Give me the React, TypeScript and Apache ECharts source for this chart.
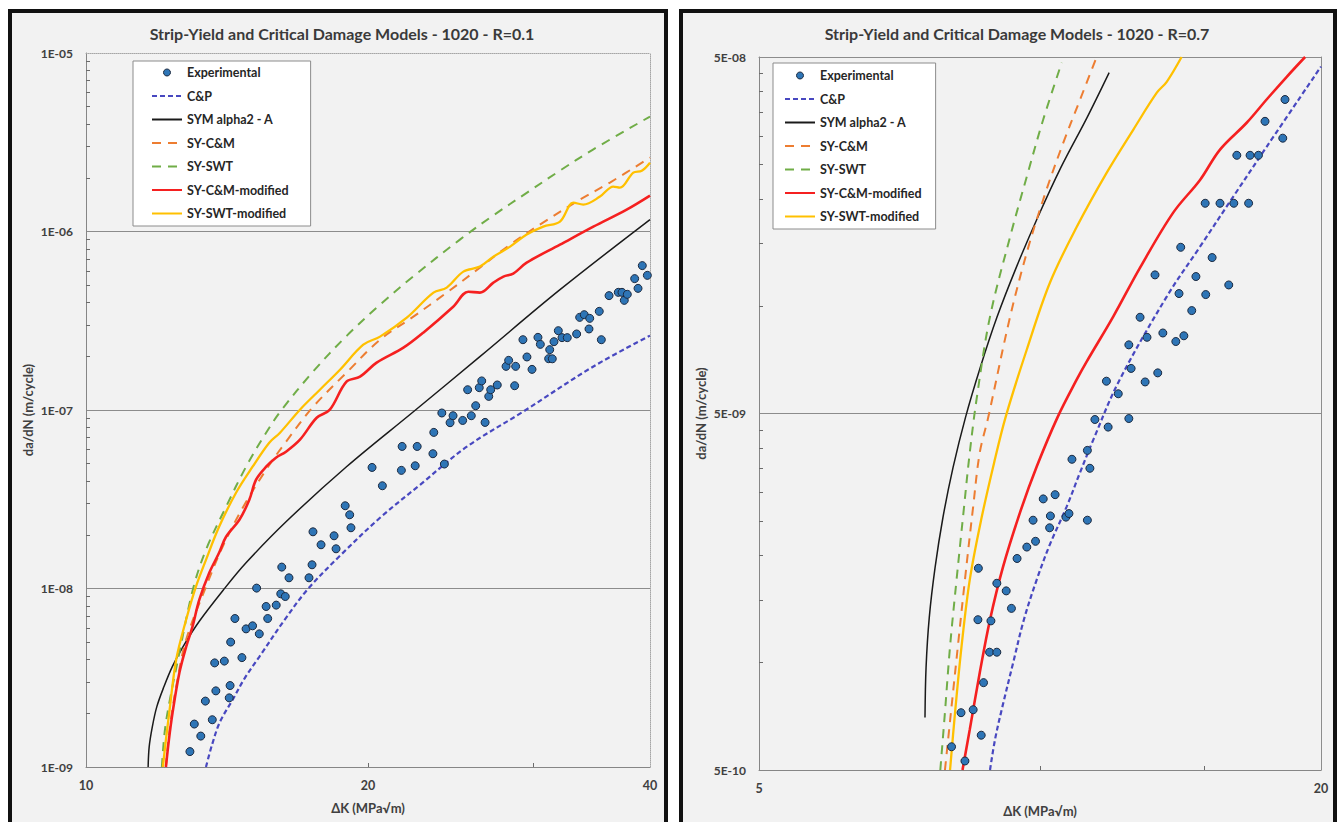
import React, { useEffect, useRef } from 'react';
import * as echarts from 'echarts';

const FONT = 'Lato, "Open Sans", sans-serif';

// ---------- Left panel: R = 0.1 ----------
const titleL = 'Strip-Yield and Critical Damage Models - 1020 - R=0.1';
const expL: [number, number][] = [
  [12.91, 1.22e-9], [13.05, 1.74e-9], [13.26, 1.49e-9], [13.41, 2.34e-9], [13.64, 1.84e-9], [13.76, 2.67e-9],
  [13.72, 3.83e-9], [14.05, 3.92e-9], [14.25, 2.86e-9], [14.22, 2.44e-9], [14.27, 5.01e-9], [14.42, 6.79e-9],
  [14.67, 4.1e-9], [14.82, 5.94e-9], [15.06, 6.18e-9], [15.31, 5.57e-9], [15.21, 1.005e-8], [15.57, 7.93e-9],
  [15.63, 6.79e-9], [15.96, 8.07e-9], [16.14, 9.34e-9], [16.18, 1.318e-8], [16.32, 9.02e-9], [16.47, 1.148e-8],
  [17.3, 1.148e-8], [17.43, 1.358e-8], [17.47, 2.078e-8], [17.82, 1.758e-8], [18.4, 1.974e-8], [18.49, 1.669e-8],
  [18.91, 2.908e-8], [19.12, 2.588e-8], [19.18, 2.189e-8], [20.2, 4.767e-8], [20.72, 3.764e-8], [21.75, 6.25e-8],
  [21.71, 4.59e-8], [22.57, 6.25e-8], [22.46, 4.87e-8], [23.46, 5.69e-8], [23.51, 7.49e-8], [23.98, 9.62e-8],
  [24.13, 4.98e-8], [24.47, 8.49e-8], [24.65, 9.29e-8], [25.24, 8.74e-8], [25.55, 1.299e-7], [25.78, 9.29e-8],
  [26.06, 1.057e-7], [26.29, 1.334e-7], [26.45, 1.455e-7], [26.67, 8.52e-8], [26.91, 1.192e-7], [27.04, 1.299e-7],
  [27.48, 1.381e-7], [28.08, 1.756e-7], [28.26, 1.897e-7], [28.68, 1.368e-7], [28.75, 1.756e-7], [29.27, 2.477e-7],
  [29.56, 1.982e-7], [29.93, 1.689e-7], [30.37, 2.553e-7], [30.55, 2.332e-7], [31.26, 2.178e-7], [31.18, 1.939e-7],
  [31.46, 1.936e-7], [31.59, 2.414e-7], [31.93, 2.782e-7], [32.22, 2.543e-7], [32.64, 2.543e-7], [33.4, 2.667e-7],
  [33.65, 3.304e-7], [34.03, 3.42e-7], [34.49, 3.262e-7], [34.43, 2.844e-7], [35.31, 3.57e-7], [35.49, 2.477e-7],
  [36.17, 4.372e-7], [37.0, 4.562e-7], [37.34, 4.562e-7], [37.55, 4.114e-7], [37.83, 4.446e-7], [38.52, 5.445e-7],
  [38.84, 4.803e-7], [39.25, 6.44e-7], [39.74, 5.68e-7],
];
const cpL: [number, number][] = [
  [13.43, 1e-9], [13.63, 1.33e-9], [13.9, 1.79e-9], [14.34, 2.38e-9], [14.78, 3.16e-9], [15.31, 4.14e-9],
  [16.35, 6.85e-9], [17.26, 9.96e-9], [18.67, 1.526e-8], [20.6, 2.49e-8], [22.73, 3.81e-8], [25.5, 6.23e-8],
  [29.28, 9.78e-8], [34.77, 1.748e-7], [40, 2.61e-7],
];
const symL: [number, number][] = [
  [11.65, 1e-9], [11.68, 1.296e-9], [11.77, 1.678e-9], [11.9, 2.172e-9], [12.11, 2.812e-9], [12.36, 3.64e-9],
  [12.69, 4.71e-9], [13.2, 6.51e-9], [14.02, 9.83e-9], [14.82, 1.393e-8], [16.35, 2.365e-8], [18.97, 4.81e-8],
  [22.36, 9.78e-8], [26.33, 1.99e-7], [32.06, 4.72e-7], [40, 1.166e-6],
];
const sycmL: [number, number][] = [
  [12.17, 1e-9], [12.23, 1.33e-9], [12.32, 1.84e-9], [12.48, 2.81e-9], [12.79, 5.16e-9], [13.43, 1.022e-8],
  [13.99, 1.713e-8], [14.7, 2.834e-8], [15.57, 4.63e-8], [16.35, 6.64e-8], [17.48, 1.043e-7], [18.97, 1.618e-7],
  [20.6, 2.477e-7], [22.36, 3.334e-7], [24.27, 4.545e-7], [26.33, 6.27e-7], [28.36, 8.44e-7], [30.75, 1.122e-6],
  [33.68, 1.51e-6], [36.25, 1.88e-6], [40, 2.595e-6],
];
const syswtL: [number, number][] = [
  [12.05, 1e-9], [12.14, 1.61e-9], [12.29, 2.38e-9], [12.58, 4.36e-9], [13.01, 9.96e-9], [13.43, 1.648e-8],
  [14.11, 2.87e-8], [14.82, 4.81e-8], [15.57, 7.46e-8], [16.15, 9.91e-8], [17.47, 1.639e-7], [18.99, 2.61e-7],
  [20.6, 3.89e-7], [22.34, 5.59e-7], [25.07, 9.01e-7], [27.2, 1.228e-6], [29.57, 1.652e-6], [32.06, 2.194e-6],
  [34.77, 2.877e-6], [40, 4.405e-6],
];
const sycmModL: [number, number][] = [
  [12.17, 1e-9], [12.26, 1.42e-9], [12.37, 2.01e-9], [12.58, 3.37e-9], [12.79, 4.71e-9], [12.99, 6.1e-9],
  [13.21, 8.64e-9], [13.54, 1.225e-8], [13.87, 1.585e-8], [14.11, 1.949e-8], [14.58, 2.427e-8], [14.94, 3.14e-8],
  [15.19, 4.07e-8], [15.57, 4.81e-8], [15.95, 5.4e-8], [16.35, 5.84e-8], [16.92, 6.82e-8], [17.63, 9.05e-8],
  [18.21, 1.004e-7], [18.97, 1.441e-7], [19.61, 1.537e-7], [20.43, 1.841e-7], [21.82, 2.234e-7], [22.91, 2.712e-7],
  [24.66, 3.79e-7], [25.59, 4.6e-7], [26.33, 4.545e-7], [27.22, 5.17e-7], [27.9, 5.59e-7], [28.58, 5.81e-7],
  [29.54, 6.69e-7], [32.06, 8.44e-7], [34.8, 1.065e-6], [37.77, 1.327e-6], [40, 1.59e-6],
];
const syswtModL: [number, number][] = [
  [12.08, 1e-9], [12.17, 1.42e-9], [12.27, 2.01e-9], [12.48, 3.98e-9], [12.79, 6.68e-9], [13.1, 1.022e-8],
  [13.43, 1.448e-8], [13.87, 2.217e-8], [14.46, 3.44e-8], [15.06, 4.81e-8], [15.69, 6.56e-8], [16.11, 7.46e-8],
  [16.92, 1.004e-7], [17.77, 1.299e-7], [18.67, 1.682e-7], [19.77, 2.323e-7], [20.6, 2.576e-7], [22.0, 3.29e-7],
  [23.49, 4.545e-7], [24.27, 4.85e-7], [25.28, 5.96e-7], [26.33, 6.36e-7], [27.22, 7.23e-7], [28.36, 8.23e-7],
  [29.54, 9.61e-7], [30.77, 1.065e-6], [32.06, 1.136e-6], [33.13, 1.452e-6], [33.95, 1.415e-6], [35.37, 1.569e-6],
  [36.55, 1.785e-6], [37.15, 1.76e-6], [38.39, 2.138e-6], [39.2, 2.19e-6], [40, 2.43e-6],
];
const xLabelsL = [10, 20, 40];
const xTicksL = [20, 30];
const yLabelsL = [1e-9, 1e-8, 1e-7, 1e-6, 1e-5];
const yGridL = [1e-8, 1e-7, 1e-6];
const minorMultL = [2, 3, 4, 5, 6, 7, 8, 9];
const decadesL = [1e-9, 1e-8, 1e-7, 1e-6];

// ---------- Right panel: R = 0.7 ----------
const titleR = 'Strip-Yield and Critical Damage Models - 1020 - R=0.7';
const expR: [number, number][] = [
  [18.3, 3.8e-8], [17.42, 3.3e-8], [18.2, 2.96e-8], [16.25, 2.65e-8], [16.79, 2.65e-8], [17.14, 2.65e-8],
  [15.03, 1.944e-8], [15.59, 1.944e-8], [16.13, 1.944e-8], [16.73, 1.944e-8], [14.15, 1.463e-8], [15.29, 1.369e-8],
  [13.28, 1.224e-8], [14.69, 1.211e-8], [15.93, 1.147e-8], [14.09, 1.085e-8], [15.05, 1.078e-8], [14.54, 9.72e-9],
  [12.8, 9.31e-9], [13.02, 8.18e-9], [13.54, 8.41e-9], [13.98, 7.96e-9], [14.26, 8.26e-9], [12.45, 7.79e-9],
  [12.52, 6.69e-9], [13.37, 6.5e-9], [12.96, 6.13e-9], [11.78, 6.16e-9], [12.13, 5.68e-9], [11.45, 4.81e-9],
  [12.45, 4.84e-9], [11.83, 4.58e-9], [11.24, 3.94e-9], [10.82, 3.72e-9], [11.31, 3.51e-9], [10.08, 2.88e-9],
  [10.38, 2.96e-9], [9.83, 2.51e-9], [10.26, 2.58e-9], [10.66, 2.56e-9], [10.74, 2.62e-9], [11.24, 2.51e-9],
  [10.24, 2.39e-9], [9.89, 2.19e-9], [9.68, 2.11e-9], [9.45, 1.96e-9], [8.59, 1.84e-9], [8.99, 1.67e-9],
  [9.2, 1.59e-9], [9.32, 1.42e-9], [8.58, 1.32e-9], [8.86, 1.31e-9], [8.83, 1.07e-9], [8.99, 1.07e-9],
  [8.7, 8.79e-10], [8.23, 7.24e-10], [8.48, 7.38e-10], [8.65, 6.26e-10], [8.04, 5.81e-10], [8.31, 5.3e-10],
];
const cpR: [number, number][] = [
  [8.84, 5e-10], [8.95, 6.09e-10], [9.1, 7.4e-10], [9.36, 1.0e-9], [9.61, 1.32e-9], [9.92, 1.71e-9],
  [10.25, 2.15e-9], [10.68, 2.74e-9], [11.04, 3.42e-9], [11.41, 4.23e-9], [12.13, 6.11e-9], [13.67, 1.064e-8],
  [14.84, 1.469e-8], [16.11, 2.03e-8], [17.49, 2.8e-8], [20, 4.7e-8],
];
const symR: [number, number][] = [
  [7.53, 7.02e-10], [7.55, 9.7e-10], [7.61, 1.34e-9], [7.72, 1.85e-9], [7.87, 2.55e-9], [8.07, 3.53e-9],
  [8.32, 4.87e-9], [8.63, 6.73e-9], [8.99, 9.29e-9], [9.43, 1.283e-8], [9.94, 1.77e-8], [10.53, 2.45e-8],
  [11.23, 3.38e-8], [11.86, 4.52e-8],
];
const sycmR: [number, number][] = [
  [7.91, 5e-10], [8.04, 7.54e-10], [8.18, 1.16e-9], [8.31, 1.71e-9], [8.48, 2.74e-9], [8.62, 3.89e-9],
  [8.8, 4.87e-9], [9.29, 9.35e-9], [9.72, 1.469e-8], [10.16, 2.12e-8], [10.59, 2.87e-8], [11.04, 3.8e-8],
  [11.5, 5e-8],
];
const syswtR: [number, number][] = [
  [7.82, 5e-10], [7.91, 7.26e-10], [8.01, 1.11e-9], [8.14, 1.71e-9], [8.28, 2.64e-9], [8.41, 3.89e-9],
  [8.56, 5.58e-9], [8.84, 9.35e-9], [9.29, 1.567e-8], [9.68, 2.31e-8], [10.08, 3.34e-8], [10.55, 4.82e-8],
];
const sycmModR: [number, number][] = [
  [8.26, 5e-10], [8.41, 6.5e-10], [8.62, 9.39e-10], [8.84, 1.32e-9], [9.13, 1.86e-9], [9.52, 2.64e-9],
  [9.92, 3.55e-9], [10.45, 4.9e-9], [10.95, 6.23e-9], [11.22, 6.99e-9], [11.98, 9.35e-9], [12.8, 1.283e-8],
  [13.89, 1.83e-8], [14.84, 2.26e-8], [15.59, 2.75e-8], [16.65, 3.27e-8], [17.49, 3.8e-8], [18.38, 4.4e-8],
  [19.23, 5e-8],
];
const syswtModR: [number, number][] = [
  [8.01, 5e-10], [8.11, 7.26e-10], [8.24, 1.11e-9], [8.41, 1.71e-9], [8.65, 2.52e-9], [8.93, 3.64e-9],
  [9.19, 4.9e-9], [9.68, 7.56e-9], [10.25, 1.165e-8], [10.95, 1.67e-8], [11.79, 2.37e-8], [12.59, 3.13e-8],
  [13.34, 3.97e-8], [13.67, 4.26e-8], [14.18, 5e-8],
];
const xLabelsR = [5, 20];
const xTicksR = [10, 15];
const yLabelsR = [5e-10, 5e-9, 5e-8];
const yGridR = [5e-9];
const minorMultR = [2, 3, 4, 5, 6, 7, 8, 9];
const decadesR = [5e-10, 5e-9];

const NAMES = ['Experimental', 'C&P', 'SYM alpha2 - A', 'SY-C&M', 'SY-SWT', 'SY-C&M-modified', 'SY-SWT-modified'];

const sci = (v: number) => {
  let e = Math.floor(Math.log10(v) + 1e-6);
  let m = Math.round(v / Math.pow(10, e));
  if (m >= 10) { m = 1; e += 1; }
  const s = String(Math.abs(e)).padStart(2, '0');
  return `${m}E${e < 0 ? '-' : '+'}${s}`;
};

const axisText = { fontFamily: FONT, fontWeight: 'bold' as const, fontSize: 12, color: '#404040' };
const nameText = { fontFamily: FONT, fontWeight: 'bold' as const, fontSize: 13, color: '#404040' };

type Panel = {
  grid: any; xMin: number; xMax: number; yMin: number; yMax: number;
  xLabels: number[]; xTicks: number[]; yLabels: number[]; yGrid: number[]; yMinor: number[];
  border: string; borderColor: string;
};

const panels: Panel[] = [
  {
    grid: { left: 86, top: 53, width: 564, height: 714 }, xMin: 10, xMax: 40, yMin: 1e-9, yMax: 1e-5,
    xLabels: xLabelsL, xTicks: xTicksL, yLabels: yLabelsL, yGrid: yGridL,
    yMinor: decadesL.flatMap((d) => minorMultL.map((m) => m * d)),
    border: 'dotted', borderColor: '#a6a6a6',
  },
  {
    grid: { left: 759, top: 57, width: 562, height: 713 }, xMin: 5, xMax: 20, yMin: 5e-10, yMax: 5e-8,
    xLabels: xLabelsR, xTicks: xTicksR, yLabels: yLabelsR, yGrid: yGridR,
    yMinor: decadesR.flatMap((d) => minorMultR.map((m) => m * d)),
    border: 'solid', borderColor: '#8c8c8c',
  },
];

const dataSets = [
  [expL, cpL, symL, sycmL, syswtL, sycmModL, syswtModL],
  [expR, cpR, symR, sycmR, syswtR, sycmModR, syswtModR],
];

const lineStyles = [
  null,
  { color: '#4848c0', width: 2.2, type: [5, 3] },
  { color: '#1a1a1a', width: 1.5, type: 'solid' },
  { color: '#ED7D31', width: 2, type: [9, 7] },
  { color: '#70AD47', width: 2, type: [9, 7] },
  { color: '#F52020', width: 2.6, type: 'solid' },
  { color: '#FFC000', width: 2.3, type: 'solid' },
];

function buildOption() {
  const xAxis: any[] = [];
  const yAxis: any[] = [];
  const series: any[] = [];
  panels.forEach((p, i) => {
    xAxis.push({
      type: 'log', logBase: 10, gridIndex: i, min: p.xMin, max: p.xMax, position: 'bottom',
      axisLine: { show: true, onZero: false, lineStyle: { color: '#868686', width: 1 } },
      axisTick: { show: true, inside: true, length: 4, customValues: p.xTicks, lineStyle: { color: '#6b6b6b' } },
      axisLabel: { customValues: p.xLabels, margin: 12, ...axisText, fontSize: 12.5, formatter: (v: number) => String(Math.round(v)) },
      splitLine: { show: false },
      name: 'ΔK (MPa√m)', nameLocation: 'middle', nameGap: 34, nameTextStyle: nameText,
    });
    xAxis.push({
      type: 'log', logBase: 10, gridIndex: i, min: p.xMin, max: p.xMax, position: 'top',
      axisLine: { show: true, onZero: false, lineStyle: { color: p.borderColor, width: 1, type: p.border } },
      axisTick: { show: false }, axisLabel: { show: false }, splitLine: { show: false },
    });
    yAxis.push({
      type: 'log', logBase: 10, gridIndex: i, min: p.yMin, max: p.yMax, position: 'left',
      axisLine: { show: true, onZero: false, lineStyle: { color: '#868686', width: 1 } },
      axisTick: { show: false, customValues: p.yGrid },
      axisLabel: { customValues: p.yLabels, margin: 13, ...axisText, formatter: (v: number) => sci(v) },
      splitLine: { show: true, lineStyle: { color: '#8c8c8c', width: 1 } },
      name: 'da/dN (m/cycle)', nameLocation: 'middle', nameGap: 52, nameRotate: 90, nameTextStyle: nameText,
    });
    yAxis.push({
      type: 'log', logBase: 10, gridIndex: i, min: p.yMin, max: p.yMax, position: 'left',
      axisLine: { show: false },
      axisTick: { show: true, inside: true, length: 4, customValues: p.yMinor, lineStyle: { color: '#6b6b6b' } },
      axisLabel: { show: false }, splitLine: { show: false },
    });
    yAxis.push({
      type: 'log', logBase: 10, gridIndex: i, min: p.yMin, max: p.yMax, position: 'right',
      axisLine: { show: true, onZero: false, lineStyle: { color: p.borderColor, width: 1, type: p.border } },
      axisTick: { show: false }, axisLabel: { show: false }, splitLine: { show: false },
    });
    const xi = i * 2;
    const yi = i * 3;
    NAMES.forEach((name, k) => {
      const data = dataSets[i][k];
      if (k === 0) {
        series.push({
          type: 'scatter', name, xAxisIndex: xi, yAxisIndex: yi, data, symbol: 'circle', symbolSize: 8, z: 5,
          itemStyle: { color: '#2E75B6', borderColor: '#1c2a40', borderWidth: 1, opacity: 1 },
        });
      } else {
        const ls = lineStyles[k]!;
        series.push({
          type: 'line', name, xAxisIndex: xi, yAxisIndex: yi, data, symbol: 'none', showSymbol: false,
          smooth: 0.35, z: 3, color: ls.color,
          lineStyle: { color: ls.color, width: ls.width, type: ls.type as any },
          itemStyle: { color: ls.color },
        });
      }
    });
  });

  const legendData = NAMES.map((name, k) =>
    k === 0
      ? { name, itemStyle: { color: '#2E75B6', borderColor: '#1c2a40', borderWidth: 1 } }
      : { name, itemStyle: { opacity: 0, color: 'rgba(0,0,0,0)', borderWidth: 0 } }
  );

  const legendCommon = {
    orient: 'vertical', data: legendData, itemWidth: 30, itemHeight: 7, itemGap: 10.5,
    backgroundColor: '#ffffff', borderColor: '#8c8c8c', borderWidth: 1, borderRadius: 0,
    selectedMode: false,
    textStyle: { fontFamily: FONT, fontWeight: 'bold', fontSize: 12.5, color: '#262626' },
  };

  return {
    animation: false,
    backgroundColor: '#ffffff',
    title: [
      { text: titleL, left: 342, top: 25, textAlign: 'center', padding: 0,
        textStyle: { fontFamily: FONT, fontWeight: 'bold', fontSize: 16, color: '#3a3a3a' } },
      { text: titleR, left: 1017, top: 25, textAlign: 'center', padding: 0,
        textStyle: { fontFamily: FONT, fontWeight: 'bold', fontSize: 16, color: '#3a3a3a' } },
    ],
    legend: [
      { ...legendCommon, left: 133, top: 61, padding: [5, 22, 6, 18] },
      { ...legendCommon, left: 773, top: 63, padding: [6, 14, 6, 11] },
    ],
    grid: panels.map((p) => ({ ...p.grid, outerBoundsMode: 'none', containLabel: false })),
    xAxis,
    yAxis,
    series,
    graphic: [
      { type: 'rect', z: -100, silent: true, shape: { x: 10, y: 11, width: 656, height: 830 }, style: { fill: '#f2f2f2' } },
      { type: 'rect', z: -100, silent: true, shape: { x: 681, y: 11, width: 654, height: 830 }, style: { fill: '#f2f2f2' } },
      { type: 'rect', z: 100, silent: true, shape: { x: 10, y: 11, width: 656, height: 830 }, style: { fill: 'none', stroke: '#111', lineWidth: 4 } },
      { type: 'rect', z: 100, silent: true, shape: { x: 681, y: 11, width: 654, height: 830 }, style: { fill: 'none', stroke: '#111', lineWidth: 4 } },
    ],
  };
}

export default function App() {
  const ref = useRef<HTMLDivElement>(null);
  useEffect(() => {
    document.body.style.margin = '0';
    const chart = echarts.init(ref.current!, null, { renderer: 'svg' });
    chart.setOption(buildOption() as any);
    return () => chart.dispose();
  }, []);
  return <div ref={ref} style={{ width: 1341, height: 822 }} />;
}
